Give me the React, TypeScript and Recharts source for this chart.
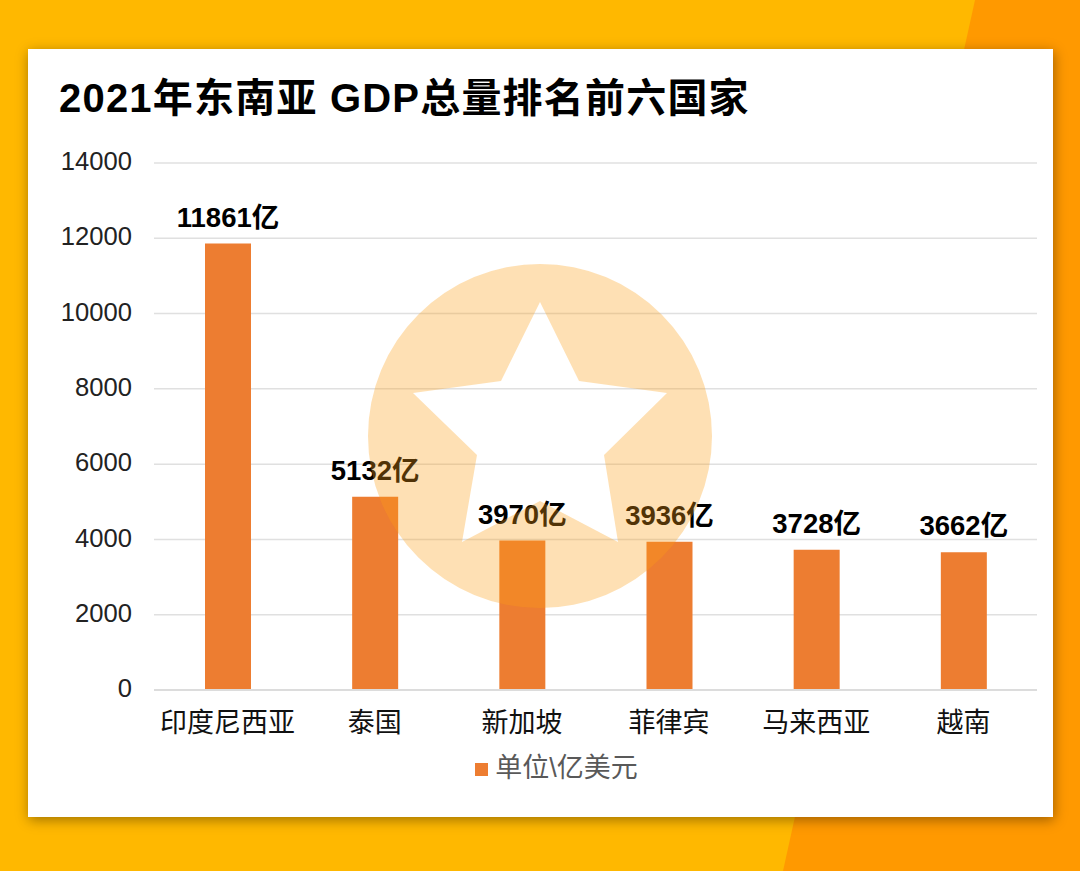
import { BarChart, Bar, XAxis, YAxis, CartesianGrid, Legend, LabelList } from 'recharts';

const countries = ['印度尼西亚', '泰国', '新加坡', '菲律宾', '马来西亚', '越南'];
const gdpValues = [11861, 5132, 3970, 3936, 3728, 3662];
const yTicks = [0, 2000, 4000, 6000, 8000, 10000, 12000, 14000];
const seriesName = '单位\\亿美元';
const titleText = '2021年东南亚 GDP总量排名前六国家';

const chartData = countries.map((name, i) => ({ name, value: gdpValues[i] }));

const fontStack = '"Liberation Sans", "Noto Sans CJK SC", sans-serif';

export default function App() {
  return (
    <div style={{ position: 'absolute', left: 0, top: 0, width: 1080, height: 871, overflow: 'hidden', background: '#FFB800', fontFamily: fontStack }}>
      <svg width={1080} height={871} style={{ position: 'absolute', left: 0, top: 0 }}>
        <polygon points="975,0 1080,0 1080,871 783,871" fill="#FF9900" />
      </svg>
      <div style={{ position: 'absolute', left: 28, top: 49, width: 1025, height: 768, background: '#fff', boxShadow: '1px 3px 12px rgba(0,0,0,0.38)' }}>
        <div style={{ position: 'absolute', left: 31, top: 24, fontSize: 40, lineHeight: '50px', fontWeight: 700, letterSpacing: 1.2, color: '#000', whiteSpace: 'nowrap' }}>
          {titleText}
        </div>
        <BarChart
          width={1025}
          height={768}
          data={chartData}
          margin={{ top: 114, right: 16, left: 0, bottom: 0 }}
        >
          <CartesianGrid vertical={false} stroke="#E0E0E0" strokeWidth={1.5} />
          <XAxis
            dataKey="name"
            height={67}
            interval={0}
            axisLine={{ stroke: '#DCDCDC', strokeWidth: 2 }}
            tickLine={false}
            tickMargin={17}
            tick={{ fill: '#111', fontSize: 27, fontFamily: fontStack }}
          />
          <YAxis
            width={126}
            domain={[0, 14000]}
            ticks={yTicks}
            axisLine={false}
            tickLine={false}
            tickMargin={16}
            dy={-2}
            tick={{ fill: '#222', fontSize: 25.6, fontFamily: fontStack }}
          />
          <Legend
            verticalAlign="bottom"
            align="center"
            height={60}
            iconType="square"
            iconSize={13}
            wrapperStyle={{ fontSize: 27, fontFamily: fontStack, left: 29, bottom: 11 }}
            formatter={(v: string) => <span style={{ color: '#595959', marginLeft: 3 }}>{v}</span>}
          />
          <Bar dataKey="value" name={seriesName} fill="#ED7D31" barSize={46} isAnimationActive={false}>
            <LabelList
              dataKey="value"
              position="top"
              offset={17}
              formatter={(v: number) => `${v}亿`}
              style={{ fill: '#000', fontSize: 27.5, fontWeight: 700, fontFamily: fontStack }}
            />
          </Bar>
        </BarChart>
      </div>
      {/* badge sits over the chart, tints bars and labels */}
      <svg width={1080} height={871} style={{ position: 'absolute', left: 0, top: 0, pointerEvents: 'none' }}>
        <path
          fillRule="evenodd"
          fill="#FB9F17"
          fillOpacity={0.32}
          d="M368,436a172,172 0 1,0 344,0a172,172 0 1,0 -344,0Z M540,302 L579,381 L667,393 L604,455 L618,542 L540,501 L462,542 L477,455 L413,393 L501,381Z"
        />
      </svg>
    </div>
  );
}
